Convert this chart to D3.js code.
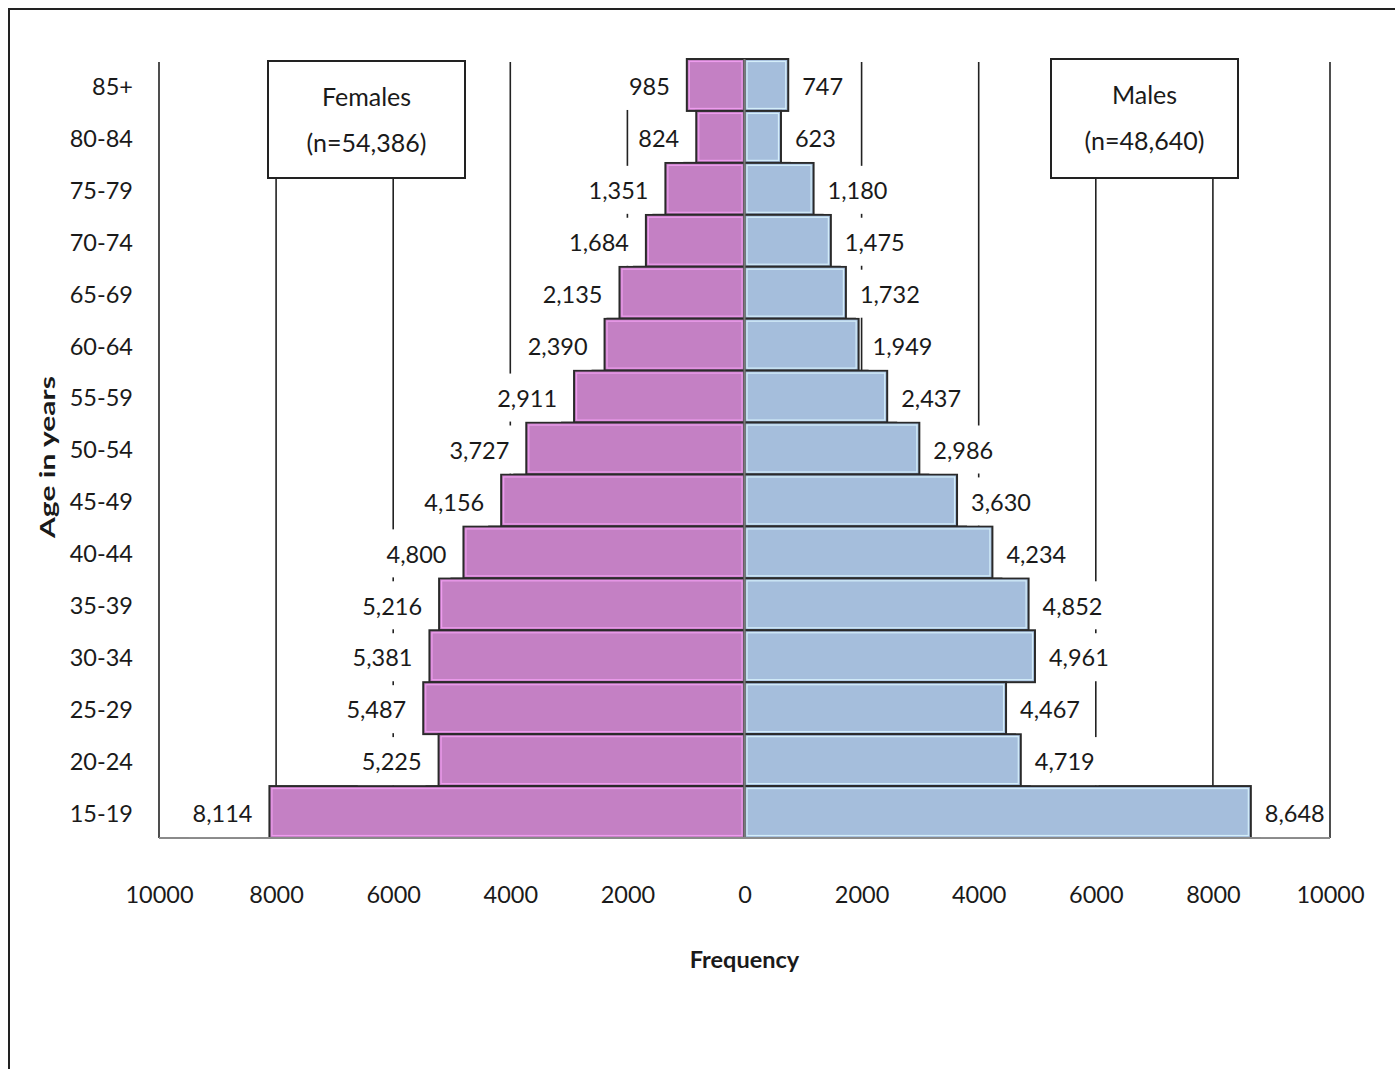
<!DOCTYPE html>
<html lang="en">
<head>
<meta charset="utf-8">
<title>Population pyramid</title>
<script type="text/javascript" src="https://d3js.org/d3.v7.min.js"></script>
<style type="text/css">
  body { margin: 0; background: #fff; }
  svg text { font-family: Lato, "Open Sans", sans-serif; fill: #1a1a1a; }
</style>
</head>
<body>
<script type="text/javascript">
// age groups, top to bottom
var ages = ["85+","80-84","75-79","70-74","65-69","60-64","55-59","50-54",
            "45-49","40-44","35-39","30-34","25-29","20-24","15-19"];
var females = [985, 824, 1351, 1684, 2135, 2390, 2911, 3727,
               4156, 4800, 5216, 5381, 5487, 5225, 8114];
var males = [747, 623, 1180, 1475, 1732, 1949, 2437, 2986,
             3630, 4234, 4852, 4961, 4467, 4719, 8648];
var xTicks = [-10000, -8000, -6000, -4000, -2000, 0, 2000, 4000, 6000, 8000, 10000];
var legendFemale = ["Females", "(n=54,386)"];
var legendMale = ["Males", "(n=48,640)"];

var w = 1395, h = 1069;
// plot area ("top" is reserved by window, so use other names)
var plotL = 159, plotR = 1330, plotT = 59, plotB = 838;

var svg = d3.select("body").append("svg")
    .attr("width", w)
    .attr("height", h);

// outer frame
svg.append("rect")
    .attr("x", 9).attr("y", 9)
    .attr("width", 1420).attr("height", 1120)
    .attr("fill", "none")
    .attr("stroke", "#222")
    .attr("stroke-width", 2);

var x = d3.scaleLinear().domain([-10000, 10000]).range([plotL, plotR]);
var y = d3.scaleBand().domain(ages).range([plotT, plotB]).padding(0);

var rows = ages.map(function(a, i) { return {age: a, f: females[i], m: males[i]}; });

// gridlines
svg.append("g").selectAll("line")
    .data(xTicks.filter(function(t) { return t !== 0; }))
    .enter().append("line")
    .attr("x1", function(d) { return x(d); })
    .attr("x2", function(d) { return x(d); })
    .attr("y1", plotT + 3)
    .attr("y2", plotB)
    .attr("stroke", "#222")
    .attr("stroke-width", 1.6);

// legend boxes
function legendBox(lines, bx, by, bw, bh) {
    var g = svg.append("g");
    g.append("rect")
        .attr("x", bx).attr("y", by)
        .attr("width", bw).attr("height", bh)
        .attr("fill", "#fff")
        .attr("stroke", "#222")
        .attr("stroke-width", 2);
    g.selectAll("text").data(lines).enter().append("text")
        .attr("x", bx + bw / 2)
        .attr("y", function(d, i) { return by + 36 + i * 46; })
        .attr("dy", "0.35em")
        .attr("text-anchor", "middle")
        .attr("font-size", "25px")
        .text(function(d) { return d; });
}
legendBox(legendFemale, 268, 61, 197, 117);
legendBox(legendMale, 1051, 59, 187, 119);

// bars
var bars = svg.append("g");
bars.selectAll("rect.f").data(rows).enter().append("rect")
    .attr("class", "f")
    .attr("x", function(d) { return x(-d.f); })
    .attr("y", function(d) { return y(d.age); })
    .attr("width", function(d) { return x(0) - x(-d.f); })
    .attr("height", y.bandwidth())
    .attr("fill", "#C480C4")
    .attr("stroke", "#2a2a2a")
    .attr("stroke-width", 2);
bars.selectAll("rect.fh").data(rows).enter().append("rect")
    .attr("class", "fh")
    .attr("x", function(d) { return x(-d.f) + 2.5; })
    .attr("y", function(d) { return y(d.age) + 2.5; })
    .attr("width", function(d) { return x(0) - x(-d.f) - 5; })
    .attr("height", y.bandwidth() - 5)
    .attr("fill", "none")
    .attr("stroke", "#EE9CEE")
    .attr("stroke-width", 1.2);
bars.selectAll("rect.m").data(rows).enter().append("rect")
    .attr("class", "m")
    .attr("x", x(0))
    .attr("y", function(d) { return y(d.age); })
    .attr("width", function(d) { return x(d.m) - x(0); })
    .attr("height", y.bandwidth())
    .attr("fill", "#A5BEDC")
    .attr("stroke", "#2a2a2a")
    .attr("stroke-width", 2);
bars.selectAll("rect.mh").data(rows).enter().append("rect")
    .attr("class", "mh")
    .attr("x", x(0) + 2.5)
    .attr("y", function(d) { return y(d.age) + 2.5; })
    .attr("width", function(d) { return x(d.m) - x(0) - 5; })
    .attr("height", y.bandwidth() - 5)
    .attr("fill", "none")
    .attr("stroke", "#D4EEFA")
    .attr("stroke-width", 1.2);

// centre axis and bottom axis line
svg.append("line")
    .attr("x1", x(0)).attr("x2", x(0))
    .attr("y1", plotT).attr("y2", plotB)
    .attr("stroke", "#7a7a7a").attr("stroke-width", 2);
svg.append("line")
    .attr("x1", plotL).attr("x2", plotR)
    .attr("y1", plotB).attr("y2", plotB)
    .attr("stroke", "#8a8a8a").attr("stroke-width", 2);

// data labels with white boxes
var fmt = d3.format(",");
function dataLabels(key, anchor, off) {
    var g = svg.append("g");
    rows.forEach(function(d) {
        var v = d[key];
        var px = key === "f" ? x(-v) - off : x(v) + off;
        var cy = y(d.age) + y.bandwidth() / 2 + 2;
        var box = g.append("rect");
        var t = g.append("text")
            .attr("x", px)
            .attr("y", cy)
            .attr("dy", "0.35em")
            .attr("text-anchor", anchor)
            .attr("font-size", "23.5px")
            .text(fmt(v));
        var bb = t.node().getBBox();
        box.attr("x", bb.x - 4).attr("y", cy - 25)
            .attr("width", bb.width + 8).attr("height", 48)
            .attr("fill", "#fff");
    });
}
dataLabels("f", "end", 17);
dataLabels("m", "start", 14);

// category axis
var yAxis = svg.append("g")
    .attr("transform", "translate(" + plotL + ",0)")
    .call(d3.axisLeft(y).tickSize(0).tickPadding(26));
yAxis.select(".domain").remove();
yAxis.selectAll("text")
    .attr("font-size", "23.5px")
    .attr("fill", "#1a1a1a")
    .attr("dy", "0.42em")
    .style("font-family", "Lato, sans-serif");

// value axis labels
var xAxis = svg.append("g")
    .attr("transform", "translate(0," + plotB + ")")
    .call(d3.axisBottom(x).tickValues(xTicks).tickSize(0).tickPadding(48)
        .tickFormat(function(d) { return Math.abs(d); }));
xAxis.select(".domain").remove();
xAxis.selectAll("text")
    .attr("font-size", "23.5px")
    .attr("fill", "#1a1a1a")
    .style("font-family", "Lato, sans-serif");

// axis titles
svg.append("text")
    .attr("x", x(0))
    .attr("y", 960)
    .attr("dy", "0.35em")
    .attr("text-anchor", "middle")
    .attr("font-size", "23.5px")
    .attr("font-weight", "bold")
    .text("Frequency");
svg.append("text")
    .attr("transform", "translate(48,457) rotate(-90)")
    .attr("dy", "0.35em")
    .attr("text-anchor", "middle")
    .attr("font-size", "21px")
    .attr("font-weight", "bold")
    .attr("textLength", 162)
    .attr("lengthAdjust", "spacingAndGlyphs")
    .text("Age in years");
</script>
</body>
</html>
